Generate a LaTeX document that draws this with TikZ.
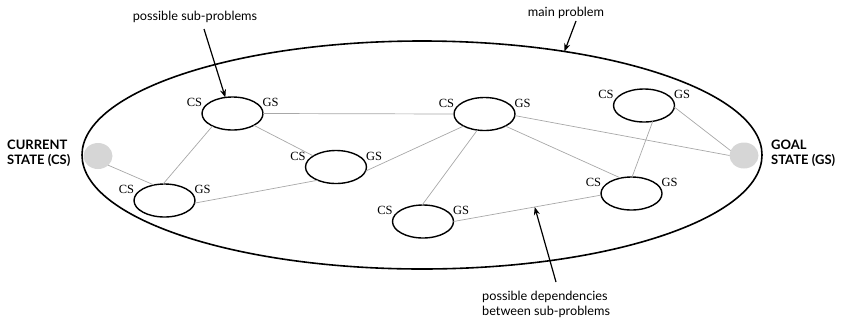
\documentclass[tikz,border=0pt]{standalone}
\usepackage{fontspec}
\newfontfamily\latofont{Lato}
\newfontfamily\seriflab{Liberation Serif}
\usetikzlibrary{arrows.meta,shapes.geometric}
\definecolor{conn}{HTML}{A8A8A8}
\definecolor{dotgray}{HTML}{D6D6D6}
\tikzset{
  sub/.style={draw=black, line width=1.4pt, ellipse, minimum width=61pt, minimum height=33pt, inner sep=0pt, outer sep=0pt},
  statedot/.style={fill=dotgray, ellipse, minimum width=29pt, minimum height=26pt, inner sep=0pt, outer sep=0pt},
  conline/.style={draw=conn, line width=0.7pt},
  callout/.style={draw=black, line width=1.2pt, -{Stealth[length=8pt,width=6pt]}},
  cslab/.style={font=\seriflab\fontsize{12.5}{14}\selectfont, inner sep=0pt},
  sanslab/.style={font=\latofont\fontsize{12.7}{15}\selectfont, inner sep=0pt, align=left},
  boldlab/.style={font=\latofont\bfseries\fontsize{13}{14.5}\selectfont, inner sep=0pt, align=left}
}
\begin{document}
\begin{tikzpicture}[x=1pt,y=-1pt]
\useasboundingbox (0,0) rectangle (842,322);
% main problem
\node[draw=black, line width=1.6pt, ellipse, minimum width=680pt, minimum height=228pt, inner sep=0pt, outer sep=0pt] (main) at (422,155) {};
% state dots
\node[statedot] (cur) at (98,156) {};
\node[statedot] (goal) at (744,155.5) {};
% sub-problems
\node[sub] (e1) at (232.5,113.5) {};
\node[sub] (e2) at (336,167) {};
\node[sub] (e3) at (164.5,200.5) {};
\node[sub] (e4) at (484.5,114) {};
\node[sub] (e5) at (644,105.5) {};
\node[sub] (e6) at (631.5,193.5) {};
\node[sub] (e7) at (423,221.5) {};
% CS / GS labels
\foreach \e in {e1,e2,e3,e4,e5,e6,e7}{
  \node[cslab] (\e cs) at ([shift={(-38,-11)}]\e.center) {CS};
  \node[cslab] (\e gs) at ([shift={(38,-11)}]\e.center) {GS};
}
% dependencies
\draw[conline] (cur.-42) -- (e3.124);
\draw[conline] (e3.95) -- (e1.212);
\draw[conline] (e3.-5) -- (e2.216);
\draw[conline] (e1.0) -- (e4.180);
\draw[conline] (e1.-29) -- (e2.154);
\draw[conline] (e2.-8) -- (e4.210);
\draw[conline] (e4.246) -- (e7.93);
\draw[conline] (e4.-3) -- (goal.180);
\draw[conline] (e4.-30) -- (e6.125);
\draw[conline] (e5.-61) -- (e6.88);
\draw[conline] (e5.-3) -- (goal.160);
\draw[conline] (e7.0) -- coordinate[pos=0.55] (dep) (e6.183);
% state labels
\node[boldlab, anchor=north west] (curlab) at (7,140) {CURRENT\\STATE (CS)};
\node[boldlab, anchor=north west] (goallab) at (771,140) {GOAL\\STATE (GS)};
% callouts
\node[sanslab] (sublab) at (195,17) {possible sub-problems};
\node[sanslab] (mainlab) at (566,13) {main problem};
\node[sanslab, anchor=north west] (deplab) at (482,291) {possible dependencies\\between sub-problems};
\coordinate (subst) at (204,29);
\coordinate (mainst) at (576,21);
\coordinate (depst) at (556,282);
\draw[callout] (subst) -- (e1.114);
\draw[callout] (mainst) -- (main.36.4);
\draw[callout] (depst) -- (dep);
\end{tikzpicture}
\end{document}
